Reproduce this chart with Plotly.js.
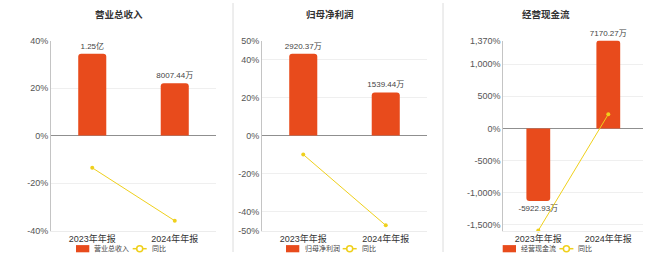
<!DOCTYPE html>
<html>
<head>
<meta charset="utf-8">
<script src="https://cdn.plot.ly/plotly-3.0.1.min.js"></script>
<style>html,body{margin:0;padding:0;background:#fff;}#chart{width:660px;height:257px;}</style>
</head>
<body>
<div id="chart"></div>
<script>
// ---- data ----
const categories = ['2023年年报', '2024年年报'];

const panelTitles = ['营业总收入', '归母净利润', '经营现金流'];
const yoyName = '同比';

const revenue = [12500, 8007.44];            // 万元
const revenueLabels = ['1.25亿', '8007.44万'];
const revenueYoY = [-13.6, -35.9];           // %

const profit = [2920.37, 1539.44];           // 万元
const profitLabels = ['2920.37万', '1539.44万'];
const profitYoY = [-10.0, -47.3];            // %

const cashflow = [-5922.93, 7170.27];        // 万元
const cashflowLabels = ['-5922.93万', '7170.27万'];
const cashflowYoY = [-1590, 221];            // %

const tickVals1 = [-40, -20, 0, 20, 40];
const tickText1 = ['-40%', '-20%', '0%', '20%', '40%'];
const tickVals2 = [-50, -40, -20, 0, 20, 40, 50];
const tickText2 = ['-50%', '-40%', '-20%', '0%', '20%', '40%', '50%'];
const tickVals3 = [-1500, -1000, -500, 0, 500, 1000, 1370];
const tickText3 = ['-1,500%', '-1,000%', '-500%', '0%', '500%', '1,000%', '1,370%'];

// ---- style ----
const W = 660, H = 257;
const FONT = '"Liberation Sans", "Noto Sans CJK SC", sans-serif';
const BAR = '#e84b1c';
const LINE = '#efd01c';
const px = v => v / W;
const py = v => 1 - v / H;

const panels = [
  {vals: revenue, labels: revenueLabels, yoy: revenueYoY, range: [-40, 40], barTopPct: 34.4,
   tv: tickVals1, tt: tickText1, dom: [51, 216], center: 119, legendX: 76},
  {vals: profit, labels: profitLabels, yoy: profitYoY, range: [-50, 50], barTopPct: 43,
   tv: tickVals2, tt: tickText2, dom: [262, 427], center: 330, legendX: 286},
  {vals: cashflow, labels: cashflowLabels, yoy: cashflowYoY, range: [-1590, 1370], barTopPct: 1370,
   tv: tickVals3, tt: tickText3, dom: [503.3, 643.3], center: 546, legendX: 502.7}
];

const data = [];
const layout = {
  width: W, height: H, autosize: false,
  margin: {l: 0, r: 0, t: 0, b: 0, autoexpand: false},
  paper_bgcolor: '#fff', plot_bgcolor: '#fff',
  font: {family: FONT, color: '#333'},
  showlegend: false,
  annotations: [], shapes: []
};

const yDom = [py(230.5), py(40.5)];
const LEG_Y = 248.7;

panels.forEach((p, i) => {
  const n = i + 1;
  const xa = n === 1 ? 'x' : 'x' + n;
  const yBase = n === 1 ? 'y' : 'y' + n;
  const yOver = 'y' + (n + 3);
  const k = Math.max(...p.vals.map(Math.abs)) / p.barTopPct;

  data.push({
    type: 'bar', x: categories, y: p.vals, name: panelTitles[i],
    xaxis: xa, yaxis: yBase,
    width: 0.34,
    marker: {color: BAR, cornerradius: 3},
    text: p.labels, texttemplate: '%{text}', textposition: 'outside',
    constraintext: 'none',
    textfont: {size: 8, color: '#444', family: FONT},
    cliponaxis: false, hoverinfo: 'skip'
  });
  data.push({
    type: 'scatter', mode: 'lines+markers', x: categories, y: p.yoy, name: yoyName,
    xaxis: xa, yaxis: yOver,
    line: {color: LINE, width: 1},
    marker: {color: LINE, size: 4},
    cliponaxis: false, hoverinfo: 'skip'
  });

  layout[n === 1 ? 'xaxis' : 'xaxis' + n] = {
    domain: [px(p.dom[0]), px(p.dom[1])], anchor: yBase,
    type: 'category', showgrid: false, zeroline: false,
    showline: true, linecolor: '#ececec', linewidth: 1,
    ticks: '', tickfont: {size: 9, color: '#333', family: FONT}, fixedrange: true
  };
  layout[n === 1 ? 'yaxis' : 'yaxis' + n] = {
    domain: yDom, anchor: xa,
    range: [p.range[0] * k, p.range[1] * k],
    visible: false, showgrid: false, zeroline: false, fixedrange: true
  };
  layout['yaxis' + (n + 3)] = {
    overlaying: yBase, anchor: xa, side: 'left',
    range: p.range, tickmode: 'array', tickvals: p.tv, ticktext: p.tt,
    showgrid: true, gridcolor: '#efefef', gridwidth: 1,
    zeroline: true, zerolinecolor: '#8f8f8f', zerolinewidth: 1.5,
    showline: true, linecolor: '#c4c4c4', linewidth: 1,
    ticks: '', tickfont: {size: 9, color: '#555', family: FONT}, fixedrange: true
  };

  // panel title
  layout.annotations.push({
    text: '<b>' + panelTitles[i] + '</b>', xref: 'paper', yref: 'paper',
    x: px(p.center), y: py(14), xanchor: 'center', yanchor: 'middle',
    showarrow: false, font: {size: 9.5, color: '#333', family: FONT}
  });

  // legend (drawn as layout decorations)
  const L = p.legendX;
  layout.shapes.push({type: 'rect', xref: 'paper', yref: 'paper',
    x0: px(L), x1: px(L + 13.3), y0: py(LEG_Y + 3.6), y1: py(LEG_Y - 3.6),
    fillcolor: BAR, line: {width: 0}});
  layout.annotations.push({
    text: panelTitles[i], xref: 'paper', yref: 'paper',
    x: px(L + 16.5), y: py(LEG_Y), xanchor: 'left', yanchor: 'middle',
    showarrow: false, font: {size: 7, color: '#444', family: FONT}
  });
  layout.shapes.push({type: 'line', xref: 'paper', yref: 'paper',
    x0: px(L + 56.7), x1: px(L + 70.7), y0: py(LEG_Y), y1: py(LEG_Y),
    line: {color: LINE, width: 1.5}});
  layout.shapes.push({type: 'circle', xref: 'paper', yref: 'paper',
    x0: px(L + 60.7), x1: px(L + 66.7), y0: py(LEG_Y + 3), y1: py(LEG_Y - 3),
    fillcolor: '#fff', line: {color: LINE, width: 1.5}});
  layout.annotations.push({
    text: yoyName, xref: 'paper', yref: 'paper',
    x: px(L + 73.5), y: py(LEG_Y), xanchor: 'left', yanchor: 'middle',
    showarrow: false, font: {size: 7, color: '#444', family: FONT}
  });
});

[233, 443].forEach(xv => {
  layout.shapes.push({type: 'line', xref: 'paper', yref: 'paper',
    x0: px(xv), x1: px(xv), y0: py(252), y1: py(3), line: {color: '#dcdcdc', width: 1}});
});

Plotly.newPlot('chart', data, layout, {displayModeBar: false, staticPlot: true});
</script>
</body>
</html>
